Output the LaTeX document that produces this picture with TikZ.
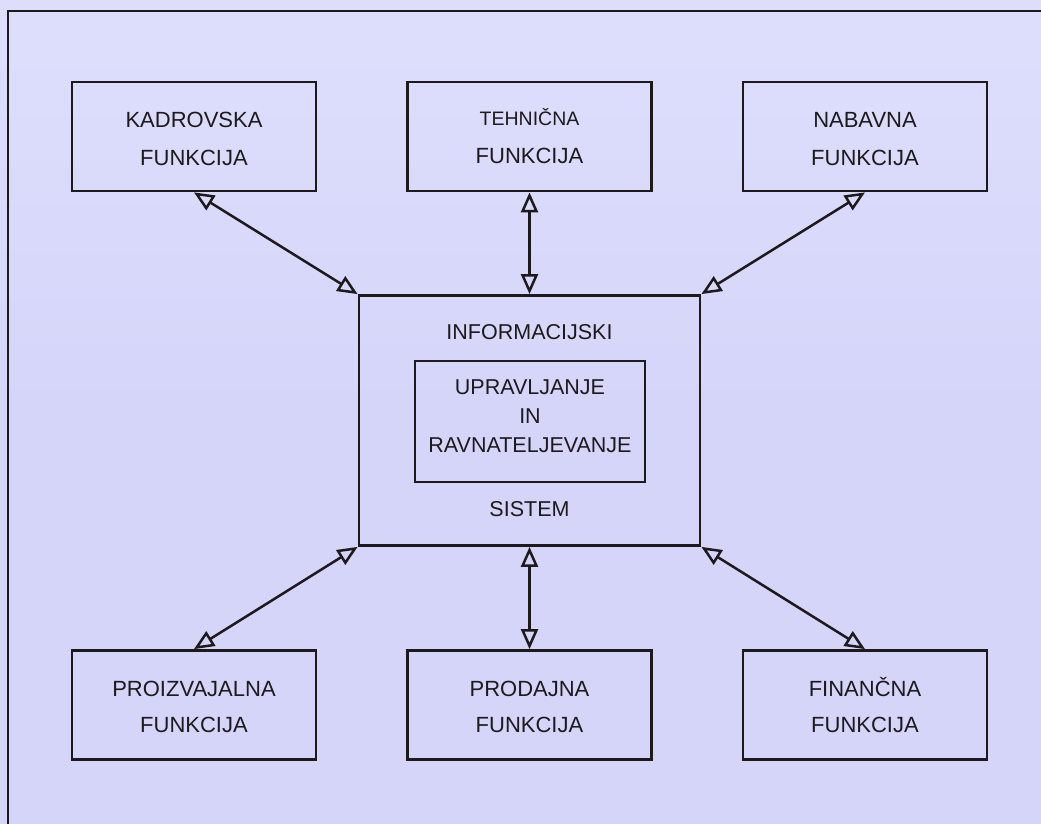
\documentclass[tikz,border=0pt]{standalone}
\usepackage{fontspec}
\setmainfont{Liberation Sans}
\usetikzlibrary{arrows.meta}
\definecolor{bgc}{RGB}{213,213,250}
\definecolor{bgl}{RGB}{222,222,252}
\definecolor{ink}{RGB}{30,26,28}
\newcommand{\capph}{\vphantom{Č}}
\tikzset{
  fbox/.style={draw=ink, line width=2.8pt, minimum width=244pt, minimum height=109pt,
    align=center, inner sep=0pt, text=ink, font=\fontsize{22}{38}\selectfont},
  lbl/.style={text=ink, inner sep=0pt, align=center, font=\fontsize{21.5}{29}\selectfont},
  link/.style={draw=ink, line width=2.5pt, {Triangle[open,length=20pt,width=17pt,line width=2.5pt]}-{Triangle[open,length=20pt,width=17pt,line width=2.5pt]}}
}
\begin{document}
\begin{tikzpicture}[x=1pt,y=-1pt]
\useasboundingbox (0,0) rectangle (1041,824);
\clip (0,0) rectangle (1041,824);
\shade[top color=bgl, bottom color=bgc, middle color=bgc] (0,0) rectangle (1041,824);
\draw[ink, line width=2.4pt] (8,840) -- (8,11) -- (1060,11);
% top boxes
\node[fbox] (kad) at (194,136.5) {\capph KADROVSKA\\FUNKCIJA};
\node[fbox] (teh) at (529.5,136.5) {{\fontsize{19.5}{38}\selectfont\capph TEHNIČNA}\\FUNKCIJA};
\node[fbox] (nab) at (865,136.5) {\capph NABAVNA\\FUNKCIJA};
% bottom boxes
\node[fbox, font=\fontsize{22}{36}\selectfont] (pro) at (194,705) {\capph PROIZVAJALNA\\FUNKCIJA};
\node[fbox, font=\fontsize{22}{36}\selectfont] (prd) at (529.5,705) {\capph PRODAJNA\\FUNKCIJA};
\node[fbox, font=\fontsize{22}{36}\selectfont] (fin) at (865,705) {\capph FINANČNA\\FUNKCIJA};
% center
\node[draw=ink, line width=2.8pt, minimum width=341pt, minimum height=250pt, inner sep=0pt] (info) at (529.5,420.5) {};
\node[lbl] (infot) at (529.5,332) {INFORMACIJSKI};
\node[draw=ink, line width=2.8pt, minimum width=230pt, minimum height=121pt, inner sep=0pt] (upr) at (530,421.5) {};
\node[lbl] (uprt) at (530,416) {UPRAVLJANJE\\IN\\RAVNATELJEVANJE};
\node[lbl] (sis) at (529.5,509) {SISTEM};
% links
\draw[link] (kad.south) -- (info.north west);
\draw[link] (teh.south) -- (info.north);
\draw[link] (nab.south) -- (info.north east);
\draw[link] (pro.north) -- (info.south west);
\draw[link] (prd.north) -- (info.south);
\draw[link] (fin.north) -- (info.south east);
\end{tikzpicture}
\end{document}
